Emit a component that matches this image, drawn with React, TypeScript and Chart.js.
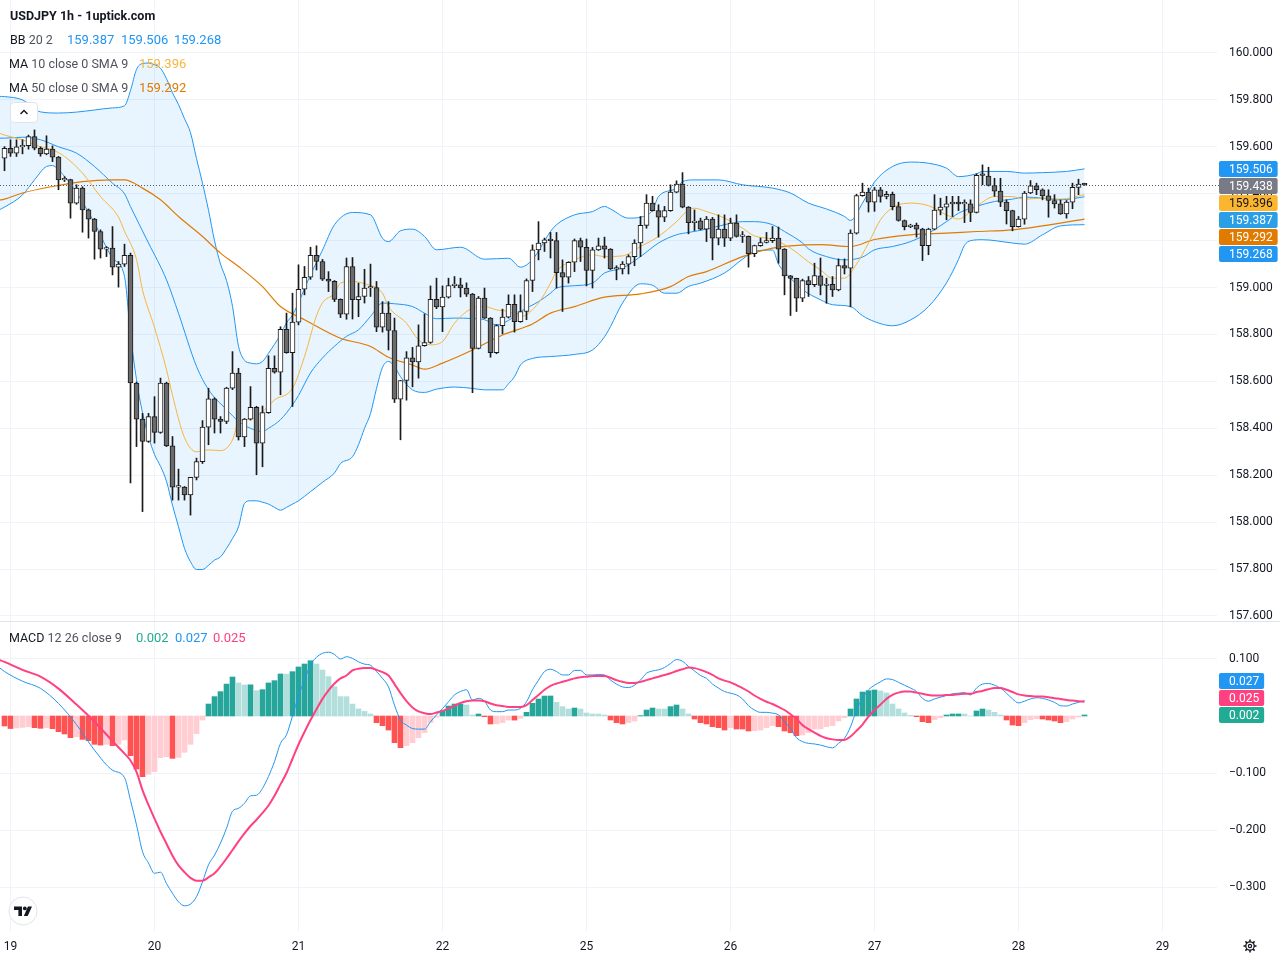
import React, { useEffect, useRef } from 'react';
import { Chart, registerables } from 'chart.js';

Chart.register(...registerables);

// ---- data (x = hourly candle index, 0 = 18th 23:00) ----
const dayTickIdx = [1, 25, 49, 73, 97, 121, 145, 169, 193];
const dayLabels = ['19', '20', '21', '22', '25', '26', '27', '28', '29'];
const priceTicks = [157.6, 157.8, 158.0, 158.2, 158.4, 158.6, 158.8, 159.0, 159.2, 159.4, 159.6, 159.8, 160.0];
const macdTicks = [0.1, -0.1, -0.2, -0.3];

const opens = [
  159.552, 159.594, 159.573, 159.60, 159.605, 159.644, 159.594, 159.57, 159.59, 159.556,
  159.459, 159.46, 159.36, 159.424, 159.331, 159.292, 159.239, 159.164, 159.168, 159.087,
  159.10, 159.137, 158.593, 158.439, 158.344, 158.45, 158.383, 158.593, 158.325, 158.149,
  158.15, 158.116, 158.191, 158.258, 158.405, 158.526, 158.439, 158.429, 158.571, 158.635,
  158.363, 158.439, 158.49, 158.337, 158.467, 158.656, 158.639, 158.822, 158.723, 158.853,
  158.993, 159.044, 159.137, 159.111, 159.036, 159.027, 158.95, 158.887, 159.09, 158.948,
  158.962, 158.998, 159.0, 158.831, 158.891, 158.817, 158.524, 158.604, 158.70, 158.683,
  158.752, 158.766, 158.95, 158.917, 158.959, 159.008, 159.012, 158.998, 158.972, 158.741,
  158.955, 158.87, 158.723, 158.838, 158.874, 158.929, 158.855, 158.898, 159.03, 159.161,
  159.19, 159.204, 159.20, 159.064, 159.044, 159.108, 159.20, 159.172, 159.073, 159.161,
  159.178, 159.164, 159.079, 159.08, 159.10, 159.132, 159.19, 159.265, 159.36, 159.328,
  159.30, 159.328, 159.407, 159.441, 159.343, 159.277, 159.284, 159.249, 159.292, 159.211,
  159.249, 159.211, 159.275, 159.218, 159.218, 159.144, 159.179, 159.192, 159.20, 159.211,
  159.164, 159.05, 159.039, 158.955, 159.03, 159.012, 159.05, 159.009, 159.014, 158.99,
  159.094, 159.083, 159.232, 159.392, 159.407, 159.364, 159.417, 159.389, 159.398, 159.345,
  159.286, 159.26, 159.266, 159.249, 159.179, 159.249, 159.33, 159.343, 159.357, 159.364,
  159.357, 159.357, 159.32, 159.479, 159.475, 159.435, 159.411, 159.364, 159.328, 159.26,
  159.292, 159.403, 159.434, 159.417, 159.391, 159.371, 159.357, 159.314, 159.364, 159.427,
  159.441,
];
const highs = [
  159.601, 159.63, 159.63, 159.63, 159.65, 159.672, 159.60, 159.647, 159.604, 159.559,
  159.473, 159.462, 159.438, 159.43, 159.335, 159.295, 159.246, 159.175, 159.26, 159.111,
  159.185, 159.147, 158.597, 158.464, 158.464, 158.535, 158.614, 158.597, 158.365, 158.226,
  158.152, 158.191, 158.273, 158.433, 158.571, 158.53, 158.45, 158.575, 158.727, 158.656,
  158.442, 158.578, 158.494, 158.495, 158.709, 158.709, 158.833, 158.891, 158.976, 159.097,
  159.09, 159.172, 159.178, 159.12, 159.068, 159.03, 158.952, 159.126, 159.128, 159.019,
  159.078, 159.10, 159.026, 158.94, 158.94, 158.87, 158.604, 158.727, 158.745, 158.841,
  158.888, 159.007, 159.04, 159.007, 159.04, 159.047, 159.04, 159.02, 158.975, 158.962,
  158.998, 158.872, 158.842, 158.908, 158.969, 158.969, 158.969, 159.037, 159.182, 159.281,
  159.211, 159.235, 159.235, 159.118, 159.11, 159.207, 159.211, 159.207, 159.171, 159.211,
  159.215, 159.166, 159.093, 159.111, 159.14, 159.204, 159.303, 159.396, 159.389, 159.353,
  159.346, 159.438, 159.455, 159.49, 159.345, 159.331, 159.296, 159.303, 159.299, 159.31,
  159.31, 159.296, 159.31, 159.239, 159.22, 159.181, 159.211, 159.235, 159.26, 159.258,
  159.166, 159.052, 159.04, 159.036, 159.047, 159.104, 159.126, 159.04, 159.047, 159.122,
  159.122, 159.246, 159.398, 159.445, 159.424, 159.427, 159.427, 159.41, 159.407, 159.364,
  159.288, 159.27, 159.275, 159.253, 159.253, 159.396, 159.381, 159.389, 159.389, 159.389,
  159.374, 159.374, 159.485, 159.523, 159.513, 159.466, 159.466, 159.374, 159.33, 159.303,
  159.41, 159.456, 159.445, 159.421, 159.417, 159.396, 159.374, 159.371, 159.445, 159.462,
  159.445,
];
const lows = [
  159.498, 159.559, 159.559, 159.57, 159.59, 159.587, 159.56, 159.566, 159.537, 159.417,
  159.452, 159.296, 159.355, 159.236, 159.211, 159.121, 159.126, 159.132, 159.054, 159.002,
  159.09, 158.167, 158.322, 158.045, 158.34, 158.337, 158.379, 158.322, 158.094, 158.094,
  158.094, 158.03, 158.18, 158.25, 158.33, 158.38, 158.38, 158.42, 158.565, 158.35,
  158.322, 158.435, 158.202, 158.236, 158.464, 158.635, 158.543, 158.72, 158.493, 158.841,
  158.969, 159.035, 159.075, 159.03, 158.983, 158.94, 158.872, 158.865, 158.866, 158.876,
  158.934, 158.962, 158.812, 158.81, 158.734, 158.51, 158.351, 158.52, 158.577, 158.614,
  158.75, 158.762, 158.91, 158.812, 158.955, 158.999, 158.96, 158.962, 158.552, 158.738,
  158.868, 158.703, 158.718, 158.803, 158.87, 158.81, 158.852, 158.863, 158.983, 159.118,
  159.154, 159.126, 158.998, 158.898, 159.019, 159.068, 159.111, 159.007, 158.998, 159.158,
  159.126, 159.077, 159.033, 159.058, 159.058, 159.093, 159.132, 159.253, 159.326, 159.215,
  159.281, 159.325, 159.404, 159.34, 159.229, 159.243, 159.246, 159.196, 159.118, 159.182,
  159.175, 159.20, 159.215, 159.192, 159.087, 159.132, 159.176, 159.19, 159.192, 159.104,
  158.969, 158.881, 158.898, 158.94, 158.962, 159.004, 158.969, 158.933, 158.962, 158.986,
  159.058, 158.918, 159.228, 159.389, 159.322, 159.325, 159.364, 159.378, 159.331, 159.283,
  159.246, 159.255, 159.215, 159.115, 159.14, 159.246, 159.31, 159.289, 159.303, 159.328,
  159.277, 159.281, 159.318, 159.438, 159.433, 159.389, 159.345, 159.271, 159.242, 159.258,
  159.27, 159.40, 159.396, 159.374, 159.30, 159.339, 159.312, 159.296, 159.336, 159.396,
  159.436,
];
const closes = [
  159.594, 159.573, 159.60, 159.605, 159.644, 159.594, 159.57, 159.59, 159.556, 159.459,
  159.46, 159.36, 159.424, 159.331, 159.292, 159.239, 159.164, 159.168, 159.087, 159.10,
  159.137, 158.593, 158.439, 158.344, 158.45, 158.383, 158.593, 158.325, 158.149, 158.15,
  158.116, 158.191, 158.258, 158.405, 158.526, 158.439, 158.429, 158.571, 158.635, 158.363,
  158.439, 158.49, 158.337, 158.467, 158.656, 158.639, 158.822, 158.723, 158.853, 158.993,
  159.044, 159.137, 159.111, 159.036, 159.027, 158.95, 158.887, 159.09, 158.948, 158.962,
  158.998, 159.0, 158.831, 158.891, 158.817, 158.524, 158.604, 158.70, 158.683, 158.752,
  158.766, 158.95, 158.917, 158.959, 159.008, 159.012, 158.998, 158.972, 158.741, 158.955,
  158.87, 158.723, 158.838, 158.874, 158.929, 158.855, 158.898, 159.03, 159.161, 159.19,
  159.204, 159.20, 159.064, 159.044, 159.108, 159.20, 159.172, 159.073, 159.161, 159.178,
  159.164, 159.079, 159.08, 159.10, 159.132, 159.19, 159.265, 159.36, 159.328, 159.30,
  159.328, 159.407, 159.441, 159.343, 159.277, 159.281, 159.249, 159.292, 159.211, 159.249,
  159.211, 159.275, 159.218, 159.219, 159.144, 159.179, 159.192, 159.20, 159.211, 159.164,
  159.05, 159.039, 158.955, 159.03, 159.012, 159.051, 159.009, 159.014, 158.99, 159.094,
  159.083, 159.232, 159.392, 159.407, 159.364, 159.417, 159.389, 159.398, 159.345, 159.286,
  159.26, 159.263, 159.249, 159.179, 159.249, 159.33, 159.343, 159.357, 159.364, 159.357,
  159.358, 159.32, 159.479, 159.478, 159.435, 159.411, 159.364, 159.328, 159.26, 159.292,
  159.403, 159.434, 159.417, 159.391, 159.371, 159.357, 159.314, 159.364, 159.427, 159.441,
  159.438,
];

// indicator lines, read at sampled candle indices: [index, value]
const bbUpper: [number, number][] = [
  [-1, 159.815], [0, 159.814], [3, 159.80], [6, 159.749], [9, 159.744], [12, 159.748], [15, 159.757],
  [18, 159.766], [20, 159.775], [21, 159.84], [22, 159.93], [23, 159.955], [24, 159.957], [25, 159.95],
  [26, 159.935], [27, 159.89], [28, 159.83], [29, 159.78], [30, 159.72], [31, 159.66], [32, 159.55],
  [33, 159.445], [34, 159.33], [35, 159.20], [36, 159.10], [37, 159.03], [38, 158.92], [39, 158.75],
  [40, 158.69], [41, 158.678], [42, 158.675], [43, 158.685], [44, 158.72], [46, 158.80], [47, 158.85],
  [48, 158.883], [51, 159.054], [53, 159.16], [55, 159.268], [58, 159.32], [61, 159.31], [63, 159.21],
  [64, 159.196], [66, 159.242], [68, 159.249], [70, 159.218], [72, 159.161], [76, 159.172], [80, 159.121],
  [84, 159.125], [86, 159.087], [88, 159.12], [91, 159.239], [92, 159.268], [95, 159.31], [98, 159.324],
  [100, 159.346], [101, 159.335], [104, 159.296], [106, 159.30], [108, 159.33], [109, 159.388],
  [112, 159.424], [113, 159.452], [115, 159.459], [119, 159.459], [123, 159.438], [128, 159.424],
  [131, 159.403], [134, 159.36], [137, 159.335], [140, 159.303], [141, 159.286], [143, 159.36],
  [145, 159.45], [148, 159.516], [151, 159.535], [154, 159.53], [157, 159.509], [159, 159.473],
  [162, 159.485], [163, 159.495], [167, 159.495], [170, 159.488], [173, 159.49], [177, 159.495], [180, 159.506],
];
const bbLower: [number, number][] = [
  [-1, 159.33], [0, 159.343], [3, 159.395], [5, 159.459], [7, 159.516], [8, 159.52], [9, 159.502],
  [12, 159.405], [15, 159.275], [18, 159.126], [20, 159.047], [21, 158.80], [22, 158.607], [23, 158.466],
  [24, 158.365], [25, 158.288], [26, 158.238], [27, 158.174], [28, 158.072], [29, 157.98], [30, 157.888],
  [31, 157.831], [32, 157.798], [33, 157.798], [34, 157.816], [35, 157.838], [36, 157.852], [37, 157.888],
  [38, 157.93], [39, 157.98], [40, 158.08], [41, 158.091], [42, 158.091], [43, 158.085], [44, 158.077],
  [45, 158.063], [46, 158.051], [47, 158.063], [48, 158.077], [49, 158.091], [51, 158.13], [53, 158.17],
  [55, 158.21], [56, 158.25], [58, 158.279], [59, 158.33], [60, 158.40], [61, 158.463], [62, 158.57],
  [63, 158.66], [64, 158.685], [65, 158.664], [66, 158.62], [68, 158.564], [70, 158.553], [72, 158.567],
  [75, 158.576], [78, 158.57], [80, 158.564], [83, 158.564], [84, 158.59], [85, 158.62], [86, 158.67],
  [88, 158.698], [91, 158.706], [95, 158.715], [98, 158.734], [100, 158.79], [101, 158.834], [103, 158.934],
  [106, 159.016], [108, 159.01], [110, 158.976], [112, 158.976], [114, 159.005], [116, 159.019],
  [120, 159.062], [123, 159.121], [125, 159.154], [128, 159.16], [129, 159.10], [131, 159.04],
  [133, 158.991], [136, 158.948], [138, 158.927], [141, 158.919], [143, 158.88], [145, 158.855],
  [148, 158.837], [151, 158.862], [154, 158.919], [157, 159.02], [159, 159.12], [160, 159.18],
  [161, 159.20], [163, 159.204], [168, 159.19], [170, 159.185], [173, 159.225], [176, 159.263], [180, 159.268],
];
const bbBasis: [number, number][] = [
  [-1, 159.637], [0, 159.637], [3, 159.641], [6, 159.63], [9, 159.60], [12, 159.573], [15, 159.516],
  [18, 159.445], [20, 159.40], [21, 159.345], [24, 159.19], [27, 159.033], [29, 158.89], [32, 158.664],
  [34, 158.565], [37, 158.48], [39, 158.43], [41, 158.40], [43, 158.386], [44, 158.40], [46, 158.437],
  [48, 158.50], [49, 158.54], [51, 158.636], [53, 158.70], [55, 158.75], [57, 158.792], [59, 158.82],
  [61, 158.877], [63, 158.934], [65, 158.931], [68, 158.919], [70, 158.891], [72, 158.867], [75, 158.87],
  [78, 158.868], [80, 158.863], [82, 158.841], [84, 158.86], [86, 158.898], [89, 158.94], [91, 158.976],
  [92, 158.998], [95, 159.008], [98, 159.019], [100, 159.062], [103, 159.083], [106, 159.132], [109, 159.19],
  [112, 159.225], [114, 159.235], [117, 159.249], [120, 159.268], [123, 159.281], [125, 159.281],
  [128, 159.268], [130, 159.239], [133, 159.19], [134, 159.165], [137, 159.132], [140, 159.118],
  [143, 159.13], [145, 159.161], [148, 159.175], [151, 159.196], [154, 159.232], [157, 159.281],
  [159, 159.317], [162, 159.346], [165, 159.367], [168, 159.377], [170, 159.386], [173, 159.381],
  [176, 159.374], [180, 159.387],
];
const ma10: [number, number][] = [
  [-1, 159.66], [0, 159.65], [3, 159.63], [6, 159.60], [8, 159.587], [10, 159.559], [13, 159.488],
  [16, 159.388], [19, 159.30], [20, 159.24], [22, 159.12], [23, 158.99], [25, 158.83], [27, 158.65],
  [28, 158.54], [30, 158.36], [32, 158.30], [34, 158.308], [36, 158.305], [38, 158.35], [39, 158.428],
  [41, 158.439], [43, 158.471], [45, 158.521], [48, 158.571], [50, 158.706], [52, 158.88], [53, 158.935],
  [55, 158.976], [56, 159.019], [58, 159.026], [60, 159.016], [63, 158.976], [64, 158.919], [67, 158.848],
  [69, 158.777], [71, 158.756], [73, 158.77], [75, 158.848], [78, 158.912], [80, 158.919], [82, 158.905],
  [84, 158.898], [86, 158.876], [89, 158.934], [91, 159.019], [92, 159.068], [95, 159.118], [98, 159.14],
  [100, 159.132], [103, 159.135], [106, 159.175], [109, 159.218], [112, 159.281], [114, 159.331],
  [115, 159.338], [117, 159.324], [120, 159.296], [123, 159.253], [125, 159.22], [128, 159.206],
  [131, 159.168], [134, 159.11], [136, 159.075], [138, 159.04], [140, 159.04], [142, 159.10],
  [144, 159.19], [146, 159.289], [148, 159.34], [151, 159.36], [154, 159.349], [157, 159.31],
  [159, 159.292], [162, 159.346], [165, 159.388], [168, 159.388], [170, 159.377], [173, 159.381],
  [176, 159.377], [180, 159.396],
];
const ma50: [number, number][] = [
  [-1, 159.372], [0, 159.377], [3, 159.403], [8, 159.431], [13, 159.452], [18, 159.459], [20, 159.459],
  [23, 159.424], [26, 159.374], [29, 159.303], [33, 159.218], [36, 159.147], [39, 159.09], [43, 159.004],
  [46, 158.919], [50, 158.863], [56, 158.784], [61, 158.749], [64, 158.703], [68, 158.67], [70, 158.652],
  [73, 158.678], [78, 158.734], [83, 158.798], [88, 158.845], [91, 158.891], [95, 158.919], [100, 158.959],
  [106, 158.973], [111, 159.004], [114, 159.047], [117, 159.068], [123, 159.132], [128, 159.168],
  [131, 159.178], [136, 159.183], [141, 159.175], [145, 159.205], [151, 159.225], [157, 159.232],
  [162, 159.239], [168, 159.246], [173, 159.263], [180, 159.292],
];

const macdHist = [
  -0.0175, -0.022, -0.021, -0.020, -0.019, -0.0205, -0.0216, -0.0205, -0.0222, -0.0275,
  -0.0316, -0.038, -0.0363, -0.041, -0.0433, -0.0497, -0.051, -0.0497, -0.052, -0.0497,
  -0.042, -0.0696, -0.093, -0.1064, -0.1023, -0.0977, -0.0731, -0.0713, -0.0743, -0.0725,
  -0.0637, -0.0497, -0.031, -0.007, 0.021, 0.034, 0.0427, 0.056, 0.0684, 0.058,
  0.0544, 0.0547, 0.0444, 0.0462, 0.058, 0.062, 0.0737, 0.0735, 0.0778, 0.086,
  0.0912, 0.097, 0.0912, 0.0807, 0.069, 0.0515, 0.034, 0.0339, 0.021, 0.0123,
  0.008, 0.0035, -0.0117, -0.017, -0.0246, -0.0468, -0.0556, -0.052, -0.0468, -0.038,
  -0.029, -0.0117, -0.002, 0.0088, 0.0175, 0.021, 0.0212, 0.0193, 0.0018, 0.0035,
  -0.0012, -0.014, -0.0138, -0.0117, -0.007, -0.0072, -0.004, 0.0064, 0.0222, 0.0298,
  0.035, 0.0351, 0.024, 0.0164, 0.0123, 0.014, 0.0123, 0.0053, 0.0035, 0.0034,
  0.0018, -0.007, -0.0117, -0.014, -0.0117, -0.0088, 0.0006, 0.0105, 0.014, 0.0123,
  0.0122, 0.0164, 0.0193, 0.0123, 0.0035, -0.0053, -0.0117, -0.014, -0.0187, -0.0205,
  -0.0246, -0.0205, -0.0228, -0.0229, -0.0263, -0.0257, -0.0246, -0.0205, -0.017, -0.0187,
  -0.0263, -0.0292, -0.0345, -0.0333, -0.0292, -0.0228, -0.0227, -0.0187, -0.017, -0.0088,
  -0.003, 0.0123, 0.0298, 0.0421, 0.0444, 0.0456, 0.0439, 0.0404, 0.021, 0.0123,
  0.0053, 0.0012, -0.0012, -0.0099, -0.0117, -0.0064, -0.003, 0.0018, 0.0035, 0.0036,
  0.0034, 0.0001, 0.0088, 0.0123, 0.0105, 0.0064, 0.0018, -0.007, -0.0158, -0.017,
  -0.0117, -0.0064, -0.0047, -0.0053, -0.007, -0.0088, -0.0117, -0.0099, -0.0053, -0.0018,
  0.0018,
];
const macdLine: [number, number][] = [
  [-1, 0.086], [0, 0.078], [3, 0.061], [6, 0.0485], [9, 0.022], [12, -0.015], [15, -0.060], [18, -0.095],
  [20, -0.108], [21, -0.148], [22, -0.191], [23, -0.238], [24, -0.258], [25, -0.276], [26, -0.274],
  [27, -0.294], [28, -0.311], [29, -0.326], [30, -0.333], [31, -0.330], [32, -0.317], [33, -0.291],
  [34, -0.261], [35, -0.244], [36, -0.223], [37, -0.197], [38, -0.167], [39, -0.162], [40, -0.153],
  [41, -0.140], [42, -0.139], [43, -0.127], [44, -0.106], [45, -0.080], [46, -0.048], [47, -0.033],
  [48, 0.0], [49, 0.035], [50, 0.063], [51, 0.090], [52, 0.103], [53, 0.110], [54, 0.112], [55, 0.108],
  [56, 0.100], [57, 0.104], [58, 0.101], [59, 0.095], [60, 0.091], [61, 0.089], [62, 0.078], [63, 0.066],
  [64, 0.051], [65, 0.019], [66, -0.007], [67, -0.016], [68, -0.022], [69, -0.023], [70, -0.023],
  [71, -0.010], [72, 0.002], [73, 0.013], [74, 0.025], [75, 0.037], [76, 0.043], [77, 0.046], [78, 0.028],
  [79, 0.031], [80, 0.026], [81, 0.0105], [82, 0.0076], [83, 0.0076], [84, 0.0105], [85, 0.0105],
  [86, 0.0135], [87, 0.025], [88, 0.046], [89, 0.063], [90, 0.078], [91, 0.082], [92, 0.078], [93, 0.072],
  [94, 0.072], [95, 0.080], [96, 0.080], [97, 0.072], [98, 0.072], [99, 0.073], [100, 0.072], [101, 0.063],
  [102, 0.056], [103, 0.051], [104, 0.050], [105, 0.054], [106, 0.063], [107, 0.075], [108, 0.079],
  [109, 0.081], [110, 0.085], [111, 0.092], [112, 0.099], [113, 0.096], [114, 0.087], [115, 0.079],
  [116, 0.071], [117, 0.066], [118, 0.056], [119, 0.049], [120, 0.043], [121, 0.040], [122, 0.037],
  [123, 0.030], [124, 0.018], [125, 0.0105], [126, 0.0064], [127, 0.0064], [128, 0.005], [129, 0.002],
  [130, -0.010], [131, -0.022], [132, -0.038], [133, -0.045], [134, -0.048], [135, -0.049], [136, -0.051],
  [137, -0.054], [138, -0.056], [139, -0.048], [140, -0.039], [141, -0.019], [142, 0.0105], [143, 0.031],
  [144, 0.046], [145, 0.054], [146, 0.060], [147, 0.065], [148, 0.064], [149, 0.059], [150, 0.054],
  [151, 0.049], [152, 0.043], [153, 0.031], [154, 0.026], [155, 0.030], [156, 0.033], [157, 0.036],
  [158, 0.039], [159, 0.040], [160, 0.041], [161, 0.037], [162, 0.049], [163, 0.056], [164, 0.057],
  [165, 0.054], [166, 0.049], [167, 0.040], [168, 0.030], [169, 0.023], [170, 0.026], [171, 0.030],
  [172, 0.032], [173, 0.031], [174, 0.028], [175, 0.024], [176, 0.018], [177, 0.0175], [178, 0.021],
  [179, 0.024], [180, 0.027],
];
const macdSignal: [number, number][] = [
  [-1, 0.099], [0, 0.095], [3, 0.081], [6, 0.069], [9, 0.048], [12, 0.020], [15, -0.010], [18, -0.044],
  [20, -0.066], [21, -0.078], [22, -0.098], [23, -0.130], [24, -0.156], [25, -0.180], [26, -0.203],
  [27, -0.224], [28, -0.245], [29, -0.262], [30, -0.274], [31, -0.284], [32, -0.289], [33, -0.289],
  [34, -0.283], [35, -0.276], [36, -0.264], [37, -0.250], [38, -0.235], [39, -0.220], [40, -0.206],
  [41, -0.193], [42, -0.182], [43, -0.170], [44, -0.157], [45, -0.140], [46, -0.120], [47, -0.100],
  [48, -0.075], [49, -0.050], [50, -0.028], [51, -0.007], [52, 0.012], [53, 0.030], [54, 0.045],
  [55, 0.057], [56, 0.066], [57, 0.071], [58, 0.080], [59, 0.083], [60, 0.084], [61, 0.084], [62, 0.081],
  [63, 0.077], [64, 0.071], [65, 0.056], [66, 0.040], [67, 0.026], [68, 0.015], [69, 0.008], [70, 0.005],
  [71, 0.0035], [72, 0.006], [73, 0.009], [74, 0.013], [75, 0.018], [76, 0.023], [77, 0.026], [78, 0.027],
  [79, 0.027], [80, 0.026], [81, 0.022], [82, 0.019], [83, 0.0175], [84, 0.016], [85, 0.016], [86, 0.016],
  [87, 0.019], [88, 0.028], [89, 0.037], [90, 0.046], [91, 0.053], [92, 0.057], [93, 0.060], [94, 0.063],
  [95, 0.066], [96, 0.068], [97, 0.069], [98, 0.070], [99, 0.070], [100, 0.070], [101, 0.067], [102, 0.063],
  [103, 0.060], [104, 0.058], [105, 0.058], [106, 0.060], [107, 0.063], [108, 0.066], [109, 0.069],
  [110, 0.072], [111, 0.075], [112, 0.079], [113, 0.082], [114, 0.085], [115, 0.084], [116, 0.081],
  [117, 0.077], [118, 0.072], [119, 0.066], [120, 0.062], [121, 0.059], [122, 0.054], [123, 0.049],
  [124, 0.043], [125, 0.036], [126, 0.030], [127, 0.025], [128, 0.021], [129, 0.016], [130, 0.0105],
  [131, 0.003], [132, -0.005], [133, -0.016], [134, -0.023], [135, -0.029], [136, -0.035], [137, -0.039],
  [138, -0.041], [139, -0.042], [140, -0.042], [141, -0.036], [142, -0.026], [143, -0.015], [144, -0.001],
  [145, 0.0105], [146, 0.020], [147, 0.030], [148, 0.037], [149, 0.041], [150, 0.043], [151, 0.043],
  [152, 0.041], [153, 0.039], [154, 0.037], [155, 0.036], [156, 0.036], [157, 0.037], [158, 0.037],
  [159, 0.038], [160, 0.039], [161, 0.039], [162, 0.042], [163, 0.044], [164, 0.047], [165, 0.049],
  [166, 0.049], [167, 0.046], [168, 0.042], [169, 0.038], [170, 0.036], [171, 0.035], [172, 0.034],
  [173, 0.034], [174, 0.033], [175, 0.031], [176, 0.030], [177, 0.028], [178, 0.027], [179, 0.026],
  [180, 0.025],
];

// ---- look ----
const FONT = 'Roboto, "Liberation Sans", Arial, sans-serif';
const TEXT = '#131722';
const GRID = '#f0f3fa';
const BLUE = '#2196f3';
const MA10_C = '#f7b53c';
const MA50_C = '#e07b00';
const SIGNAL_C = '#ff4081';
const UP = '#ffffff';
const DOWN = '#6b6b6b';
const WICK = '#1a1a1a';
const AXIS_W = 63;
const PLOT_W = 1280 - AXIS_W;
// candle i is centred on pixel 4.5 + 6 * i
const X_MIN = -0.75;
const X_MAX = (PLOT_W - 4.5) / 6;
const P_MAX = 160.2259;
const P_MIN = 157.5786;
const M_MAX = 0.16491;
const M_MIN = -0.37719;

const last = (arr: [number, number][]) => arr[arr.length - 1][1];
const fmtSigned = (v: number) => (v < 0 ? '\u2212' : '') + Math.abs(v).toFixed(3);
const pts = (arr: [number, number][]) => arr.map(([x, y]) => ({ x, y }));

// Chart.js reserves room for half a tick label at each end; the panes here run edge to edge
const noPad = (s: any) => {
  s.paddingTop = 0;
  s.paddingBottom = 0;
  s.paddingLeft = 0;
  s.paddingRight = 0;
};

type Tag = { v: number; text: string; bg: string; fg: string };

function drawTags(chart: Chart, tags: Tag[], stackUp: boolean) {
  const { ctx, chartArea } = chart;
  const yScale = chart.scales.y;
  ctx.save();
  ctx.font = `12px ${FONT}`;
  ctx.textBaseline = 'middle';
  const list = [...tags].sort((a, b) => (stackUp ? a.v - b.v : b.v - a.v));
  let prev: number | null = null;
  for (const t of list) {
    let py = yScale.getPixelForValue(t.v);
    if (prev !== null) py = stackUp ? Math.min(py, prev - 17) : Math.max(py, prev + 17);
    prev = py;
    const x0 = chartArea.right + 2;
    const w = ctx.measureText(t.text).width + 15;
    ctx.fillStyle = t.bg;
    ctx.beginPath();
    ctx.roundRect(x0, Math.round(py - 8), w, 16, 2);
    ctx.fill();
    ctx.fillStyle = t.fg;
    ctx.fillText(t.text, x0 + 10, Math.round(py) + 0.5);
  }
  ctx.restore();
}

const lastClose = closes[closes.length - 1];

const priceOverlay = {
  id: 'priceOverlay',
  afterDatasetsDraw(chart: Chart) {
    const { ctx, chartArea } = chart;
    const py = Math.round(chart.scales.y.getPixelForValue(lastClose)) + 0.5;
    ctx.save();
    ctx.strokeStyle = '#555a66';
    ctx.lineWidth = 1;
    ctx.setLineDash([1, 2]);
    ctx.beginPath();
    ctx.moveTo(chartArea.left, py);
    ctx.lineTo(chartArea.right + 2, py);
    ctx.stroke();
    ctx.restore();
  },
  afterDraw(chart: Chart) {
    drawTags(chart, [
      { v: last(bbUpper), text: last(bbUpper).toFixed(3), bg: BLUE, fg: '#fff' },
      { v: lastClose, text: lastClose.toFixed(3), bg: '#787b86', fg: '#fff' },
      { v: last(ma10), text: last(ma10).toFixed(3), bg: '#fbb52e', fg: TEXT },
      { v: last(bbBasis), text: last(bbBasis).toFixed(3), bg: '#2b9ee8', fg: '#fff' },
      { v: last(ma50), text: last(ma50).toFixed(3), bg: MA50_C, fg: '#fff' },
      { v: last(bbLower), text: last(bbLower).toFixed(3), bg: BLUE, fg: '#fff' },
    ], false);
  },
};

const lastHist = macdHist[macdHist.length - 1];

const macdOverlay = {
  id: 'macdOverlay',
  afterDraw(chart: Chart) {
    drawTags(chart, [
      { v: last(macdLine), text: last(macdLine).toFixed(3), bg: BLUE, fg: '#fff' },
      { v: last(macdSignal), text: last(macdSignal).toFixed(3), bg: SIGNAL_C, fg: '#fff' },
      { v: lastHist, text: lastHist.toFixed(3), bg: '#22ab94', fg: '#fff' },
    ], true);
  },
};

function histColor(i: number) {
  const v = macdHist[i];
  const prev = i > 0 ? macdHist[i - 1] : v;
  if (v >= 0) return v > prev ? '#26a69a' : '#b2dfdb';
  return v <= prev ? '#ff5252' : '#ffcdd2';
}

const idx = closes.map((_, i) => i);

const xScaleBase = {
  type: 'linear' as const,
  min: X_MIN,
  max: X_MAX,
  offset: false,
  grid: { color: GRID, drawTicks: false, offset: false },
  border: { display: false },
  afterBuildTicks: (s: any) => { s.ticks = dayTickIdx.map((v) => ({ value: v })); },
};

const App: React.FC = () => {
  const priceRef = useRef<HTMLCanvasElement>(null);
  const macdRef = useRef<HTMLCanvasElement>(null);

  useEffect(() => {
    if (!priceRef.current || !macdRef.current) return;
    Chart.defaults.font.family = FONT;

    const line = (data: [number, number][], color: string, width: number, order: number, extra = {}) => ({
      type: 'line' as const,
      data: pts(data),
      borderColor: color,
      borderWidth: width,
      pointRadius: 0,
      cubicInterpolationMode: 'monotone' as const,
      fill: false,
      order,
      ...extra,
    });

    const priceChart = new Chart(priceRef.current, {
      type: 'bar',
      data: {
        datasets: [
          line(bbLower, BLUE, 1, 6),
          line(bbUpper, BLUE, 1, 5, { fill: '-1', backgroundColor: 'rgba(33,150,243,0.1)' }),
          line(bbBasis, BLUE, 1, 4),
          line(ma50, MA50_C, 1.2, 3),
          line(ma10, MA10_C, 1, 2),
          {
            type: 'bar',
            data: idx.map((i) => ({ x: i, y: [lows[i], highs[i]] })),
            backgroundColor: WICK,
            barThickness: 1,
            grouped: false,
            order: 1,
          },
          {
            type: 'bar',
            data: idx.map((i) => ({ x: i, y: [opens[i], closes[i]] })),
            backgroundColor: idx.map((i) => (closes[i] >= opens[i] ? UP : DOWN)),
            borderColor: WICK,
            borderWidth: 1,
            borderSkipped: false,
            barThickness: 5,
            minBarLength: 1.5,
            grouped: false,
            order: 0,
          },
        ] as any,
      },
      options: {
        animation: false,
        responsive: true,
        maintainAspectRatio: false,
        events: [],
        layout: { padding: 0 },
        plugins: { legend: { display: false }, tooltip: { enabled: false } },
        scales: {
          x: {
            ...xScaleBase,
            ticks: { display: false },
            afterFit: (s: any) => { s.height = 0; noPad(s); },
          },
          y: {
            type: 'linear',
            position: 'right',
            min: P_MIN,
            max: P_MAX,
            grid: { color: GRID, drawTicks: false },
            border: { display: false },
            ticks: { padding: 12, color: TEXT, font: { size: 12 }, callback: (v: any) => Number(v).toFixed(3) },
            afterBuildTicks: (s: any) => { s.ticks = priceTicks.map((v) => ({ value: v })); },
            afterFit: (s: any) => { s.width = AXIS_W; noPad(s); },
          },
        } as any,
      },
      plugins: [priceOverlay],
    });

    const macdChart = new Chart(macdRef.current, {
      type: 'bar',
      data: {
        datasets: [
          {
            type: 'bar',
            data: idx.map((i) => ({ x: i, y: macdHist[i] })),
            backgroundColor: idx.map(histColor),
            barThickness: 5,
            grouped: false,
            order: 2,
          },
          line(macdLine, BLUE, 1, 1),
          line(macdSignal, SIGNAL_C, 2, 0),
        ] as any,
      },
      options: {
        animation: false,
        responsive: true,
        maintainAspectRatio: false,
        events: [],
        layout: { padding: 0 },
        plugins: { legend: { display: false }, tooltip: { enabled: false } },
        scales: {
          x: {
            ...xScaleBase,
            ticks: {
              color: TEXT,
              font: { size: 12 },
              padding: 9,
              autoSkip: false,
              maxRotation: 0,
              callback: (_v: any, i: number) => dayLabels[i],
            },
            afterFit: (s: any) => { s.height = 29; noPad(s); },
          },
          y: {
            type: 'linear',
            position: 'right',
            min: M_MIN,
            max: M_MAX,
            grid: { color: GRID, drawTicks: false },
            border: { display: false },
            ticks: { padding: 12, color: TEXT, font: { size: 12 }, callback: (v: any) => fmtSigned(Number(v)) },
            afterBuildTicks: (s: any) => { s.ticks = macdTicks.map((v) => ({ value: v })); },
            afterFit: (s: any) => { s.width = AXIS_W; noPad(s); },
          },
        } as any,
      },
      plugins: [macdOverlay],
    });

    return () => {
      priceChart.destroy();
      macdChart.destroy();
    };
  }, []);

  const abs = (left: number, top: number): React.CSSProperties => ({
    position: 'absolute', left, top, height: 16, lineHeight: '16px', fontSize: 12.5, whiteSpace: 'nowrap',
  });
  const num = (left: number, top: number, color: string): React.CSSProperties => ({
    ...abs(left, top), fontSize: 13, color,
  });
  const param = '#50535e';

  return (
    <div style={{ position: 'fixed', left: 0, top: 0, width: 1280, height: 960, background: '#fff', overflow: 'hidden', fontFamily: FONT, color: TEXT }}>
      <div style={{ position: 'absolute', left: 0, top: 0, width: 1280, height: 621 }}>
        <canvas ref={priceRef} />
      </div>
      <div style={{ position: 'absolute', left: 0, top: 621, width: 1280, height: 1, background: '#e0e3eb' }} />
      <div style={{ position: 'absolute', left: 0, top: 622, width: 1280, height: 338 }}>
        <canvas ref={macdRef} />
      </div>

      <div style={{ ...abs(10, 8), fontWeight: 'bold' }}>USDJPY 1h - 1uptick.com</div>

      <div style={abs(10, 32)}>BB <span style={{ color: param }}>20 2</span></div>
      <div style={num(67, 32, BLUE)}>{last(bbBasis).toFixed(3)}</div>
      <div style={num(121, 32, BLUE)}>{last(bbUpper).toFixed(3)}</div>
      <div style={num(174, 32, BLUE)}>{last(bbLower).toFixed(3)}</div>

      <div style={abs(9, 56)}>MA <span style={{ color: param }}>10 close 0 SMA 9</span></div>
      <div style={num(139, 56, MA10_C)}>{last(ma10).toFixed(3)}</div>

      <div style={abs(9, 80)}>MA <span style={{ color: param }}>50 close 0 SMA 9</span></div>
      <div style={num(139, 80, MA50_C)}>{last(ma50).toFixed(3)}</div>

      <div style={{ position: 'absolute', left: 10, top: 102, width: 26, height: 19, border: '1px solid #e0e3eb', borderRadius: 4, background: '#fff' }}>
        <svg width="26" height="19" viewBox="0 0 26 19">
          <polyline points="9.5,11 13,7.5 16.5,11" fill="none" stroke={TEXT} strokeWidth="1.4" />
        </svg>
      </div>

      <div style={abs(9, 630)}>MACD <span style={{ color: param }}>12 26 close 9</span></div>
      <div style={num(136, 630, '#22ab94')}>{lastHist.toFixed(3)}</div>
      <div style={num(175, 630, BLUE)}>{last(macdLine).toFixed(3)}</div>
      <div style={num(213, 630, SIGNAL_C)}>{last(macdSignal).toFixed(3)}</div>

      <svg style={{ position: 'absolute', left: 8, top: 896 }} width="30" height="30" viewBox="0 0 30 30">
        <circle cx="15" cy="15" r="14" fill="#fff" stroke="#e0e3eb" />
        <path d="M6 10.5h8v9.5h-3.6v-6H6z" fill={TEXT} />
        <circle cx="16.8" cy="12.4" r="1.9" fill={TEXT} />
        <path d="M20 10.5h4l-4.3 9.5h-3.9z" fill={TEXT} />
      </svg>

      <svg style={{ position: 'absolute', left: 1242, top: 938 }} width="16" height="16" viewBox="0 0 16 16">
        <circle cx="8" cy="8" r="4.2" fill="none" stroke={TEXT} strokeWidth="1.3" />
        <circle cx="8" cy="8" r="1.6" fill="none" stroke={TEXT} strokeWidth="1.2" />
        {[0, 45, 90, 135, 180, 225, 270, 315].map((a) => (
          <line key={a} x1="8" y1="1.5" x2="8" y2="3.8" stroke={TEXT} strokeWidth="1.6" transform={`rotate(${a} 8 8)`} />
        ))}
      </svg>
    </div>
  );
};

export default App;
